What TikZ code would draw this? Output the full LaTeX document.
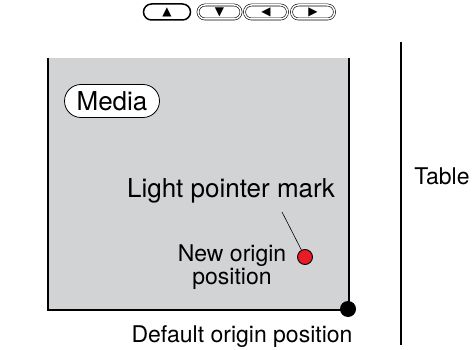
\documentclass[tikz,border=0pt]{standalone}
\usepackage{fontspec}
\setmainfont{TeX Gyre Heros}
\usetikzlibrary{shapes.misc}
\newfontfamily\symfont{DejaVu Sans}
\definecolor{mediagray}{RGB}{210,211,213}
\definecolor{pointerred}{RGB}{232,28,36}
\begin{document}
\begin{tikzpicture}[
    x=1pt, y=-1pt,
    every node/.style={font=\fontsize{23}{23}\selectfont, inner sep=0pt},
    keybtn/.style={rounded rectangle, draw, line width=1.5pt, minimum width=47, minimum height=16, font=\symfont\fontsize{12}{12}\selectfont},
    keybtndbl/.style={keybtn, line width=0.6pt, double, double distance=1.5pt, minimum width=43, minimum height=14},
    label/.style={font=\fontsize{26}{26}\selectfont}
]
    \useasboundingbox (0,0) rectangle (476,350);

    % Arrow keys
    \node[keybtn] (kup) at (167,12) {▲};
    \node[keybtndbl] (kdown) at (219.5,12) {▼};
    \node[keybtndbl] (kleft) at (266,12) {◀};
    \node[keybtndbl] (kright) at (313,12) {▶};

    % Media
    \fill[mediagray] (48,58) rectangle (349,310);
    \draw[line width=1.5pt] (48,58) -- (48,310) -- (349,310) -- (349,58);
    \node[rounded rectangle, draw, fill=white, line width=0.8pt, minimum width=95, minimum height=33, label] (media) at (112,101) {Media};

    % Table
    \draw[line width=1.5pt] (401,42) -- (401,345);
    \node (table) at (442,176) {Table};

    % Origins
    \node[circle, draw, fill=pointerred, line width=0.9pt, minimum size=15] (neworigin) at (305,257) {};
    \node[circle, fill=black, minimum size=16] (deforigin) at (348,309) {};
    \node[label] (lpm) at (231,191) {Light pointer mark};
    \node[align=center, anchor=north] (nop) at (232,245) {New origin\\position};
    \node (dop) at (242,337) {Default origin position};

    % Pointer line
    \coordinate (lpmtip) at (282,212);
    \draw[line width=0.6pt] (lpmtip) -- (neworigin);
\end{tikzpicture}
\end{document}
